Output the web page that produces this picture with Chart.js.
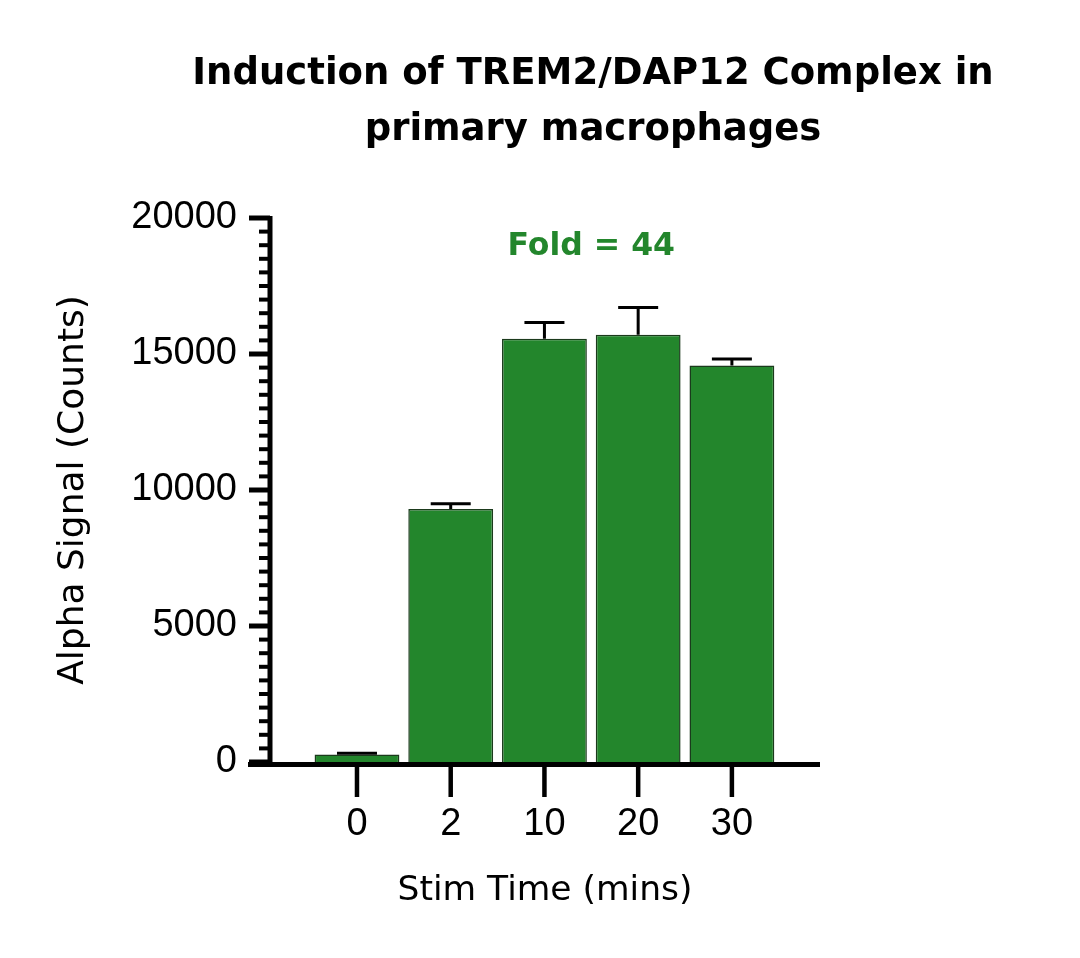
<!DOCTYPE html>
<html>
<head>
<meta charset="utf-8">
<script src="https://cdn.jsdelivr.net/npm/chart.js@4.4.1/dist/chart.umd.min.js"></script>
<style>
  html, body { margin: 0; padding: 0; background: #fff; }
  #wrap { width: 1080px; height: 958px; position: relative; }
</style>
</head>
<body>
<div id="wrap"><canvas id="chart"></canvas></div>
<script>
// values
const stimTimes = ["0", "2", "10", "20", "30"];
const alphaCounts = [280, 9300, 15560, 15710, 14580];
const alphaErr = [40, 190, 600, 1000, 240];
const yTickValues = [0, 5000, 10000, 15000, 20000];
const titleLines = ["Induction of TREM2/DAP12 Complex in", "primary macrophages"];
const foldText = "Fold = 44";

const FONT = "'DejaVu Sans', sans-serif";
const TICK_FONT = "'Liberation Sans', Arial, sans-serif";
const GREEN = "#23862c";

// axes, minor ticks, error bars and text are drawn here (prism style)
const prismBits = {
    id: "prismBits",
    afterDatasetsDraw(chart) {
        const ctx = chart.ctx;
        const y = chart.scales.y;
        const meta = chart.getDatasetMeta(0);
        ctx.save();
        ctx.strokeStyle = "#000";
        ctx.lineWidth = 3;
        meta.data.forEach((bar, i) => {
            const top = y.getPixelForValue(alphaCounts[i] + alphaErr[i]);
            ctx.beginPath();
            ctx.moveTo(bar.x, bar.y);
            ctx.lineTo(bar.x, top);
            ctx.moveTo(bar.x - 20, top);
            ctx.lineTo(bar.x + 20, top);
            ctx.stroke();
        });
        ctx.restore();
    },
    afterDraw(chart) {
        const ctx = chart.ctx;
        const { x, y } = chart.scales;
        const area = chart.chartArea;
        ctx.save();
        ctx.strokeStyle = "#000";
        ctx.lineCap = "butt";

        // y axis line
        ctx.lineWidth = 5;
        ctx.beginPath();
        ctx.moveTo(area.left, y.getPixelForValue(20000) - 2);
        ctx.lineTo(area.left, area.bottom + 5);
        ctx.stroke();
        // x axis line, sticks out past y axis
        ctx.beginPath();
        ctx.moveTo(area.left - 22, area.bottom + 2.5);
        ctx.lineTo(area.right, area.bottom + 2.5);
        ctx.stroke();

        // minor y ticks every 500
        ctx.lineWidth = 4;
        for (let v = 500; v < 20000; v += 500) {
            if (v % 5000 === 0) continue;
            const py = y.getPixelForValue(v);
            ctx.beginPath();
            ctx.moveTo(area.left, py);
            ctx.lineTo(area.left - 11, py);
            ctx.stroke();
        }
        // major y ticks
        ctx.lineWidth = 5;
        y.ticks.forEach(t => {
            const py = y.getPixelForValue(t.value);
            ctx.beginPath();
            ctx.moveTo(area.left, py);
            ctx.lineTo(area.left - 21, py);
            ctx.stroke();
        });
        // x ticks
        ctx.lineWidth = 4.5;
        stimTimes.forEach((s, i) => {
            const px = x.getPixelForValue(i);
            ctx.beginPath();
            ctx.moveTo(px, area.bottom + 2);
            ctx.lineTo(px, area.bottom + 35);
            ctx.stroke();
        });

        // fold label centred over the stimulated bars
        ctx.fillStyle = GREEN;
        ctx.font = "bold 31.5px " + FONT;
        ctx.textAlign = "center";
        ctx.textBaseline = "alphabetic";
        const fx = (x.getPixelForValue(1) + x.getPixelForValue(stimTimes.length - 1)) / 2;
        ctx.fillText(foldText, fx, y.getPixelForValue(18640));

        // title
        ctx.fillStyle = "#000";
        ctx.font = "bold 37px " + FONT;
        ctx.fillText(titleLines[0], 593, 84);
        ctx.fillText(titleLines[1], 593, 140);
        ctx.restore();
    }
};

new Chart(document.getElementById("chart"), {
    type: "bar",
    data: {
        datasets: [{
            data: alphaCounts.map((v, i) => ({ x: i, y: v })),
            backgroundColor: GREEN,
            borderColor: "#1b3a1c",
            borderWidth: 1.5,
            categoryPercentage: 1,
            barPercentage: 0.905
        }]
    },
    options: {
        responsive: true,
        maintainAspectRatio: false,
        animation: false,
        layout: { padding: { top: 218, right: 260, left: 40, bottom: 46 } },
        plugins: { legend: { display: false }, tooltip: { enabled: false } },
        scales: {
            x: {
                type: "linear",
                offset: false,
                min: -0.928,
                max: 4.94,
                grid: { display: false, drawTicks: false, offset: false },
                border: { display: false },
                ticks: {
                    stepSize: 1,
                    includeBounds: false,
                    padding: 40,
                    color: "#000",
                    font: { family: TICK_FONT, size: 38 },
                    callback: v => stimTimes[v] ?? ""
                },
                title: {
                    display: true,
                    text: "Stim Time (mins)",
                    color: "#000",
                    font: { family: FONT, size: 34.5 },
                    padding: 0
                },
                afterFit: s => { s.height = 958 - 762 - 46; }
            },
            y: {
                min: 0,
                max: 20000,
                grid: { display: false, drawTicks: false },
                border: { display: false },
                ticks: {
                    stepSize: 5000,
                    padding: 33,
                    color: "#000",
                    font: { family: TICK_FONT, size: 38 },
                    callback: v => yTickValues.includes(v) ? String(v) : ""
                },
                title: {
                    display: true,
                    text: "Alpha Signal (Counts)",
                    color: "#000",
                    font: { family: FONT, size: 36 },
                    padding: { top: 12, bottom: 0 }
                },
                afterFit: s => { s.width = 270 - 40; }
            }
        }
    },
    plugins: [prismBits]
});
</script>
</body>
</html>
